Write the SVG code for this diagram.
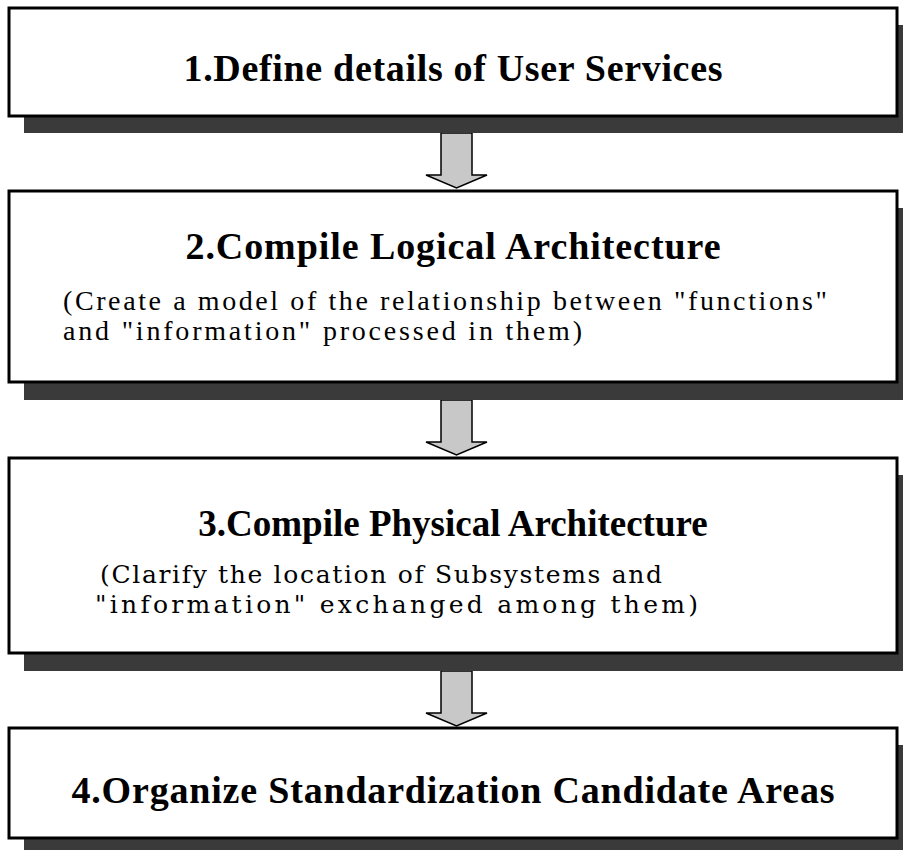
<svg xmlns="http://www.w3.org/2000/svg" width="903" height="850" viewBox="0 0 903 850">
<style>
.shadow{fill:#3a3a3a}
.box{fill:#fff;stroke:#000;stroke-width:3}
.title{font-family:"Liberation Serif","Times New Roman",serif;font-weight:bold;font-size:38px;fill:#000;text-anchor:middle}
.sub{font-family:"Liberation Serif","Times New Roman",serif;font-size:28px;fill:#000}
.sub3{font-family:"DejaVu Serif","Liberation Serif",serif;font-size:25px;fill:#000}
.arrow{fill:#c8c8c8;stroke:#000;stroke-width:1.5;stroke-linejoin:miter}
</style>
<rect width="903" height="850" fill="#fff"/>
<g id="connectors">
<path class="arrow" d="M441,133 L472,133 L472,175 L487,175 L456.5,188 L426,175 L441,175 Z"/>
<path class="arrow" d="M441,400 L472,400 L472,442 L487,442 L456.5,455 L426,442 L441,442 Z"/>
<path class="arrow" d="M441,671 L472,671 L472,713 L487,713 L456.5,726 L426,713 L441,713 Z"/>
</g>
<g id="node1">
<rect class="shadow" x="24" y="25" width="888" height="108"/>
<rect class="box" x="9" y="8" width="888" height="108"/>
<text class="title" x="453" y="81" textLength="539" lengthAdjust="spacing">1.Define details of User Services</text>
</g>
<g id="node2">
<rect class="shadow" x="24" y="208" width="888" height="192"/>
<rect class="box" x="9" y="191" width="888" height="191"/>
<text class="title" x="453" y="259" textLength="535" lengthAdjust="spacing">2.Compile Logical Architecture</text>
<text class="sub" x="63" y="310" textLength="764" lengthAdjust="spacing">(Create a model of the relationship between "functions"</text>
<text class="sub" x="63" y="340" textLength="519" lengthAdjust="spacing">and "information" processed in them)</text>
</g>
<g id="node3">
<rect class="shadow" x="24" y="475" width="888" height="196"/>
<rect class="box" x="9" y="458" width="888" height="195"/>
<text class="title" x="453" y="536" style="font-size:37px">3.Compile Physical Architecture</text>
<text class="sub3" x="100" y="583" textLength="562" lengthAdjust="spacing">(Clarify the location of Subsystems and</text>
<text class="sub3" x="95" y="613" textLength="603" lengthAdjust="spacing">"information" exchanged among them)</text>
</g>
<g id="node4">
<rect class="shadow" x="24" y="745" width="888" height="110"/>
<rect class="box" x="9" y="728" width="888" height="110"/>
<text class="title" x="453" y="803" textLength="763" lengthAdjust="spacing">4.Organize Standardization Candidate Areas</text>
</g>
</svg>
